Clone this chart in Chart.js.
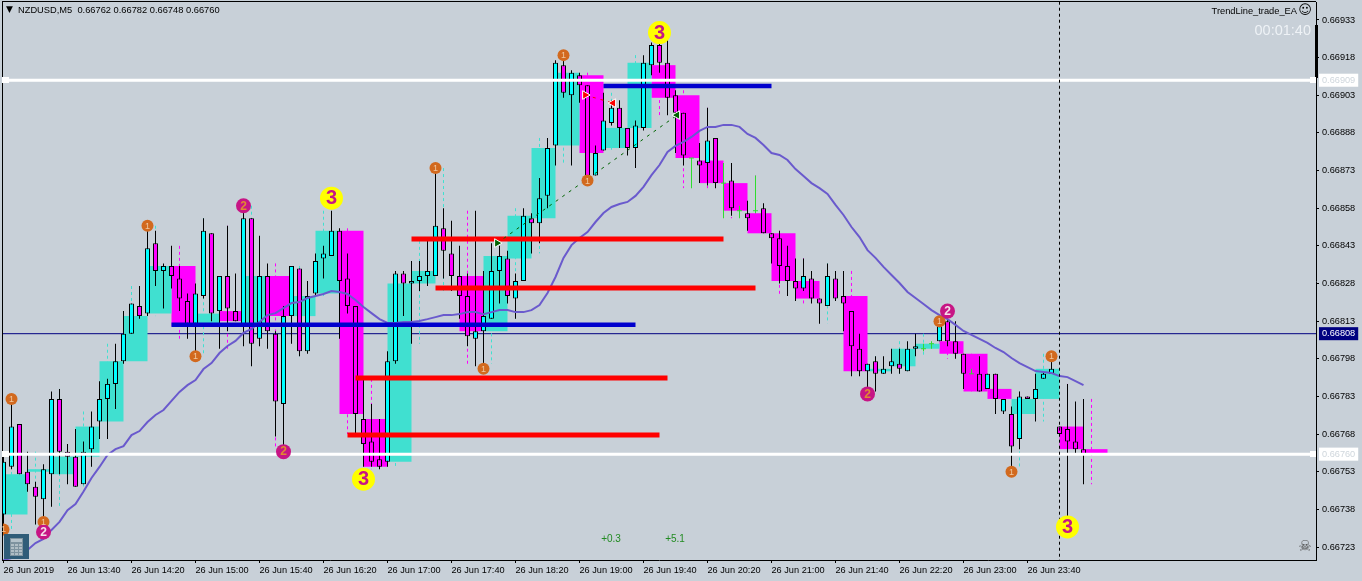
<!DOCTYPE html>
<html>
<head>
<meta charset="utf-8">
<title>NZDUSD,M5</title>
<script src="https://cdn.jsdelivr.net/npm/chart.js@4"></script>
<style>
html, body { margin: 0; padding: 0; background: #c8d0d8; overflow: hidden; }
canvas { display: block; }
</style>
</head>
<body>
<canvas id="chart_nzdusd" width="1362" height="581"></canvas>
<script>
// all prices are in points, 66760 = 0.66760
var opens = [66736,66755,66772,66753,66747,66742,66752,66782,66761,66759,
    66748,66762,66773,66782,66788,66797,66808,66819,66816,66844,
    66833,66835,66830,66821,66812,66823,66848,66817,66831,66817,
    66811,66854,66806,66831,66808,66780,66815,66834,66801,66824,
    66838,66839,66849,66830,66819,66774,66765,66758,66757,66797,
    66832,66828,66829,66831,66831,66850,66840,66831,66823,66806,
    66809,66814,66833,66838,66822,66829,66854,66852,66863,66883,
    66915,66903,66911,66907,66871,66881,66892,66898,66890,66882,
    66890,66915,66923,66916,66903,66896,66878,66877,66876,66886,
    66868,66869,66857,66856,66857,66858,66848,66846,66835,66829,
    66826,66830,66822,66819,66830,66823,66817,66802,66793,66797,
    66792,66795,66796,66793,66802,66802,66804,66805,66813,66805,
    66800,66792,66792,66786,66792,66777,66776,66766,66783,66782,
    66790,66792,66771,66770,66765,66762];
var highs = [66760,66784,66772,66761,66749,66756,66785,66786,66764,66770,
    66765,66777,66789,66790,66804,66817,66820,66827,66851,66849,
    66836,66843,66835,66824,66828,66854,66848,66831,66851,66832,
    66859,66854,66847,66836,66809,66819,66835,66834,66829,66840,
    66843,66857,66850,66840,66819,66790,66780,66774,66801,66833,
    66833,66837,66837,66845,66874,66858,66853,66843,66832,66857,
    66833,66844,66843,66841,66832,66858,66856,66870,66886,66917,
    66918,66913,66912,66907,66883,66904,66901,66901,66890,66893,
    66919,66924,66925,66925,66905,66896,66878,66884,66898,66886,
    66876,66876,66859,66861,66871,66860,66848,66849,66843,66838,
    66838,66833,66822,66836,66833,66833,66817,66808,66796,66799,
    66799,66802,66802,66805,66808,66804,66805,66814,66815,66813,
    66800,66794,66799,66792,66792,66782,66779,66785,66783,66792,
    66793,66800,66771,66788,66781,66782];
var lows = [66730,66754,66752,66745,66732,66734,66739,66752,66748,66747,
    66748,66755,66766,66766,66778,66796,66808,66814,66815,66827,
    66818,66826,66817,66806,66799,66822,66813,66802,66809,66813,
    66803,66795,66803,66802,66767,66763,66804,66799,66800,66823,
    66830,66839,66806,66816,66768,66755,66755,66754,66755,66796,
    66815,66804,66825,66827,66831,66830,66825,66814,66803,66795,
    66796,66814,66820,66820,66814,66829,66840,66844,66858,66875,
    66902,66875,66900,66869,66871,66881,66891,66882,66879,66874,
    66889,66911,66912,66895,66880,66875,66866,66868,66867,66866,
    66854,66855,66854,66849,66856,66848,66836,66828,66823,66821,
    66825,66820,66812,66819,66821,66809,66791,66791,66786,66785,
    66792,66792,66792,66793,66799,66801,66802,66805,66803,66798,
    66786,66792,66785,66786,66776,66776,66754,66762,66782,66773,
    66790,66792,66768,66735,66760,66748];
var closes = [66757,66771,66752,66748,66743,66754,66782,66761,66759,66747,
    66761,66771,66782,66788,66797,66808,66820,66815,66842,66833,
    66835,66831,66822,66812,66824,66849,66816,66831,66818,66813,
    66854,66804,66831,66809,66781,66815,66835,66801,66823,66837,
    66840,66849,66829,66819,66776,66764,66757,66755,66797,66832,
    66828,66829,66831,66833,66851,66841,66831,66823,66807,66809,
    66815,66833,66839,66823,66829,66855,66852,66862,66882,66916,
    66904,66912,66907,66870,66880,66893,66898,66890,66882,66891,
    66916,66923,66916,66902,66896,66879,66878,66875,66885,66868,
    66868,66858,66857,66854,66857,66848,66846,66835,66829,66826,
    66831,66822,66820,66831,66822,66820,66803,66793,66796,66792,
    66794,66797,66794,66802,66803,66802,66804,66811,66805,66800,
    66792,66792,66785,66792,66782,66782,66763,66783,66782,66786,
    66792,66794,66768,66765,66762,66760];

// moving average, one value per M5 bar
var maValues = [66717.8,66718.6,66720.2,66721.8,66724.6,66726.2,66729.8,66733.0,66737.7,66740.1,
    66745.1,66750.5,66754.9,66759.7,66762.0,66763.2,66767.6,66769.2,66772.8,66775.6,
    66777.6,66781.2,66784.8,66787.5,66789.5,66793.9,66796.3,66800.3,66803.1,66805.1,
    66808.3,66809.9,66812.7,66815.4,66816.2,66818.2,66820.2,66820.6,66822.2,66823.0,
    66823.8,66825.0,66824.6,66823.8,66821.4,66818.6,66816.2,66813.8,66812.3,66812.3,
    66812.7,66812.7,66813.1,66813.8,66814.6,66815.4,66815.4,66815.8,66816.6,66816.6,
    66815.8,66816.6,66817.4,66817.4,66816.6,66816.6,66817.4,66819.4,66824.2,66830.6,
    66838.2,66843.3,66846.1,66848.5,66852.5,66856.1,66858.5,66859.7,66860.5,66862.9,
    66866.5,66871.2,66875.2,66880.4,66882.8,66884.4,66886.4,66888.8,66890.4,66890.4,
    66891.2,66891.2,66890.4,66887.6,66886.0,66883.2,66880.0,66879.2,66877.2,66873.6,
    66870.8,66868.0,66866.0,66863.7,66859.3,66855.3,66850.5,66846.5,66841.3,66838.2,
    66834.6,66831.4,66828.2,66824.6,66822.2,66819.8,66817.4,66815.4,66813.8,66811.5,
    66809.1,66807.5,66805.9,66804.3,66802.3,66800.7,66798.3,66796.3,66794.7,66793.1,
    66792.7,66792.3,66791.1,66790.7,66789.1,66787.5];

// higher timeframe bars, each one spans three M5 bars
var htfOpens = [66736,66753,66752,66759,66773,66797,66816,66835,66812,66817,66811,66831,66815,66824,66849,66774,
    66757,66828,66831,66831,66809,66838,66854,66883,66911,66882,66890,66915,66903,66877,66868,
    66856,66848,66829,66822,66823,66793,66795,66802,66805,66800,66786,66776,66782,66771,66762];
var htfHighs = [66784,66761,66786,66777,66804,66827,66851,66843,66854,66851,66859,66836,66835,66857,66850,66790,
    66833,66845,66874,66857,66844,66858,66886,66918,66912,66904,66919,66925,66905,66898,66876,
    66871,66849,66838,66836,66833,66799,66805,66808,66815,66800,66792,66785,66800,66788,66782];
var htfLows = [66730,66732,66739,66747,66766,66796,66815,66806,66799,66802,66795,66763,66799,66823,66768,66754,
    66755,66804,66825,66795,66796,66814,66840,66875,66870,66881,66874,66895,66866,66866,66854,
    66848,66823,66820,66812,66791,66785,66792,66799,66798,66785,66776,66754,66773,66735,66748];
var htfCloses = [66752,66754,66759,66771,66797,66815,66835,66811,66816,66813,66831,66815,66823,66849,66776,66755,
    66828,66833,66831,66809,66839,66855,66882,66912,66880,66890,66916,66902,66878,66868,66857,
    66848,66829,66822,66822,66793,66794,66802,66804,66800,66785,66782,66782,66794,66762,66760];

// trend lines: start bar, end bar, price
var redStarts = [51, 54, 44, 43];
var redEnds = [90, 94, 83, 82];
var redPrices = [66845.7, 66826.2, 66790.3, 66767.6];
var blueStarts = [21, 75];
var blueEnds = [79, 96];
var bluePrices = [66811.6, 66906.7];
var whitePrices = [66909, 66760];
var bidPrice = 66808;

// closed trades: entry and exit
var buyBars = [61.7, 84.2];
var buyPrices = [66844.1, 66895.1];
var sellBars = [72.7, 76.2];
var sellPrices = [66903.1, 66899.9];

// numbered swing markers
var oneBars = [1, 0, 5, 18, 24, 54, 60, 70, 73, 117, 131, 126];
var onePrices = [66782, 66730, 66733, 66851, 66799, 66874, 66794, 66919, 66869, 66813, 66799, 66753];
var twoBars = [5, 30, 35, 108, 118];
var twoPrices = [66729, 66859, 66761, 66784, 66817];
var threeBars = [41, 45, 82, 133];
var threePrices = [66862, 66750, 66928, 66731];

var crosshairBar = 132;

var timeTickBars = [0, 8, 16, 24, 32, 40, 48, 56, 64, 72, 80, 88, 96, 104, 112, 120, 128];
var timeTickLabels = ['26 Jun 2019', '26 Jun 13:40', '26 Jun 14:20', '26 Jun 15:00', '26 Jun 15:40',
    '26 Jun 16:20', '26 Jun 17:00', '26 Jun 17:40', '26 Jun 18:20', '26 Jun 19:00', '26 Jun 19:40',
    '26 Jun 20:20', '26 Jun 21:00', '26 Jun 21:40', '26 Jun 22:20', '26 Jun 23:00', '26 Jun 23:40'];
var priceTicks = [66933, 66918, 66903, 66888, 66873, 66858, 66843, 66828, 66813, 66798, 66783, 66768, 66753, 66738, 66723];

var BG = '#c8d0d8';
var TURQUOISE = '#40e0d0';
var MAGENTA = '#ff00ff';
var CYAN = '#00ffff';
var DOJI = '#2fdc2f';
var FONT = '"Liberation Sans"';

function segment(list, x1, y1, x2, y2) {
    list.push({x: x1, y: y1}, {x: x2, y: y2}, {x: x2, y: null});
}

var htfUpBoxes = [], htfDownBoxes = [], htfUpDash = [], htfDownDash = [];
htfOpens.forEach(function(open, k) {
    var up = htfCloses[k] >= open;
    (up ? htfUpBoxes : htfDownBoxes).push({x: 3 * k + 1.5, y: [open, htfCloses[k]]});
    segment(up ? htfUpDash : htfDownDash, 3 * k + 1, htfHighs[k], 3 * k + 1, htfLows[k]);
});

var wicks = [], wickColors = [], bodies = [], bodyColors = [], dojiCross = [];
opens.forEach(function(open, i) {
    var doji = open === closes[i];
    wicks.push({x: i, y: [lows[i], highs[i]]});
    wickColors.push(doji ? DOJI : '#000000');
    if (doji) {
        segment(dojiCross, i - 0.31, open, i + 0.31, open);
    } else {
        bodies.push({x: i, y: [open, closes[i]]});
        bodyColors.push(closes[i] > open ? CYAN : MAGENTA);
    }
});

var redData = [], blueData = [], whiteData = [], bidData = [], crosshair = [];
redPrices.forEach(function(p, n) { segment(redData, redStarts[n], p, redEnds[n], p); });
bluePrices.forEach(function(p, n) { segment(blueData, blueStarts[n], p, blueEnds[n], p); });
whitePrices.forEach(function(p) { segment(whiteData, -1, p, 170, p); });
segment(bidData, -1, bidPrice, 170, bidPrice);
segment(crosshair, crosshairBar, 66700, crosshairBar, 66950);

function zip(xs, ys) {
    return xs.map(function(x, n) { return {x: x, y: ys[n]}; });
}

function barSet(data, thickness, color, order, border) {
    return {
        type: 'bar', data: data, order: order, grouped: false,
        barThickness: thickness, backgroundColor: color, inflateAmount: 0,
        borderWidth: border ? 1 : 0, borderColor: '#000000', borderSkipped: false
    };
}

function lineSet(data, color, width, order, dash) {
    return {
        type: 'line', data: data, order: order, borderColor: color, borderWidth: width,
        borderDash: dash || [], pointRadius: 0, spanGaps: false, tension: 0, fill: false
    };
}

function markerSet(data, color, radius, order) {
    return {
        type: 'line', data: data, order: order, showLine: false, pointRadius: radius,
        pointBackgroundColor: color, pointBorderWidth: 0, pointStyle: 'circle'
    };
}

function tradeSet(bars, prices, color) {
    var s = lineSet(zip(bars, prices), color, 1, 5, [3, 5]);
    s.pointStyle = 'triangle';
    s.pointRadius = 5;
    s.pointRotation = [90, -90];
    s.pointBackgroundColor = color;
    s.pointBorderColor = '#ffffff';
    s.pointBorderWidth = 1;
    return s;
}

// some of the 2 markers sit over a 1 and their digit looks orange
var twoDigitColors = ['#f4e0ea', '#e08a30', '#e08a30', '#e08a30', '#f4e0ea'];
var digitLabels = [
    {bars: oneBars, prices: onePrices, text: '1', color: '#f0c8a0', font: '9px ' + FONT},
    {bars: twoBars, prices: twoPrices, text: '2', colors: twoDigitColors, font: 'bold 12px ' + FONT},
    {bars: threeBars, prices: threePrices, text: '3', color: '#c71585', font: 'bold 20px ' + FONT}
];

var overlay = {
    id: 'overlay',
    beforeDraw: function(chart) {
        var c = chart.ctx;
        c.save();
        c.fillStyle = BG;
        c.fillRect(0, 0, chart.width, chart.height);
        c.restore();
    },
    afterDraw: function(chart) {
        var c = chart.ctx, xs = chart.scales.x, ys = chart.scales.y, area = chart.chartArea;
        c.save();
        // top and left frame
        c.fillStyle = '#000000';
        c.fillRect(area.left, area.top - 1, area.right - area.left, 1);
        c.fillRect(area.left, area.top, 1, area.bottom - area.top);
        c.fillRect(area.right - 1, 25, 3, 53);

        // white tabs at both ends of the price lines
        c.fillStyle = '#ffffff';
        whitePrices.forEach(function(p) {
            var y = Math.round(ys.getPixelForValue(p));
            c.fillRect(area.left, y - 3, 7, 6);
            c.fillRect(area.right - 6, y - 3, 6, 6);
        });

        // digits on the swing markers
        c.textAlign = 'center';
        c.textBaseline = 'middle';
        digitLabels.forEach(function(set) {
            c.font = set.font;
            set.bars.forEach(function(b, n) {
                c.fillStyle = set.colors ? set.colors[n] : set.color;
                c.fillText(set.text, xs.getPixelForValue(b), ys.getPixelForValue(set.prices[n]) + 0.5);
            });
        });

        // texts on the window
        c.textAlign = 'left';
        c.fillStyle = '#000000';
        c.font = '9px "DejaVu Sans"';
        c.fillText('\u25BC', 6, 10);
        c.font = '9.3px ' + FONT;
        c.fillText('NZDUSD,M5  0.66762 0.66782 0.66748 0.66760', 18, 10);
        c.textAlign = 'right';
        c.fillText('TrendLine_trade_EA', 1297, 11);
        c.font = '13px "DejaVu Sans"';
        c.textAlign = 'center';
        c.fillText('\u263A', 1305, 11);
        c.fillStyle = '#eef2f6';
        c.font = '14.5px ' + FONT;
        c.textAlign = 'right';
        c.fillText('00:01:40', 1311, 31);
        c.fillStyle = '#228b22';
        c.font = '10px ' + FONT;
        c.textAlign = 'center';
        c.fillText('+0.3', 611, 539);
        c.fillText('+5.1', 675, 539);
        c.fillStyle = '#505050';
        c.font = '15px "DejaVu Sans"';
        c.fillText('\u2620', 1305, 547);

        // calculator button
        c.fillStyle = '#2f5c78';
        c.fillRect(4, 534, 25, 25);
        c.fillStyle = '#7e939f';
        c.fillRect(10, 538, 13, 18);
        c.fillStyle = '#b4c2ca';
        c.fillRect(11, 539, 11, 3);
        c.fillStyle = '#b0bec5';
        for (var row = 0; row < 4; row++) {
            for (var col = 0; col < 3; col++) {
                c.fillRect(11 + col * 4, 544 + row * 3, 3, 2);
            }
        }
        c.restore();
    }
};

var ctx = document.getElementById('chart_nzdusd');
var myChart = new Chart(ctx, {
    type: 'bar',
    data: {
        datasets: [
            lineSet(bidData, '#000080', 1, 20),
            barSet(htfUpBoxes, 24, TURQUOISE, 19, false),
            barSet(htfDownBoxes, 24, MAGENTA, 19, false),
            lineSet(htfUpDash, TURQUOISE, 1, 18, [3, 3]),
            lineSet(htfDownDash, MAGENTA, 1, 18, [3, 3]),
            barSet(wicks, 1, wickColors, 17, false),
            lineSet(dojiCross, DOJI, 1, 17),
            barSet(bodies, 5, bodyColors, 16, true),
            lineSet(maValues.map(function(v, i) { return {x: i, y: v}; }), '#6a5acd', 2, 12),
            lineSet(redData, '#ff0000', 5, 8),
            lineSet(blueData, '#0000cd', 4.5, 8),
            lineSet(whiteData, '#ffffff', 3, 7),
            tradeSet(buyBars, buyPrices, '#006400'),
            tradeSet(sellBars, sellPrices, '#ff0000'),
            lineSet(crosshair, '#000000', 1, 4, [3, 3]),
            markerSet(zip(oneBars, onePrices), '#d2691e', 6, 3),
            markerSet(zip(twoBars, twoPrices), '#c71585', 7.5, 2),
            markerSet(zip(threeBars, threePrices), '#ffff00', 11.5, 1)
        ]
    },
    options: {
        responsive: false,
        animation: false,
        devicePixelRatio: 1,
        layout: {autoPadding: false, padding: {left: 2, top: 2, right: 0, bottom: 0}},
        plugins: {legend: {display: false}, tooltip: {enabled: false}},
        scales: {
            x: {
                type: 'linear',
                offset: false,
                min: -0.1875,
                max: 164.0625,
                grid: {offset: false, drawOnChartArea: false, tickLength: 3, tickColor: '#000000'},
                border: {color: '#000000', width: 1},
                afterBuildTicks: function(scale) {
                    scale.ticks = timeTickBars.map(function(v) { return {value: v}; });
                },
                afterFit: function(scale) {
                    scale.height = 21;
                    scale.paddingLeft = 0;
                    scale.paddingRight = 0;
                },
                ticks: {
                    autoSkip: false,
                    maxRotation: 0,
                    minRotation: 0,
                    align: 'start',
                    padding: 2,
                    color: '#000000',
                    font: {family: FONT, size: 9.2},
                    callback: function(value) {
                        return timeTickLabels[timeTickBars.indexOf(value)];
                    }
                }
            },
            y: {
                position: 'right',
                min: 66717.82,
                max: 66940.17,
                grid: {
                    drawOnChartArea: false,
                    tickLength: 3,
                    tickColor: function(c) {
                        return c.tick && isFlag(c.tick.value) ? 'rgba(0,0,0,0)' : '#000000';
                    }
                },
                border: {color: '#000000', width: 1},
                afterBuildTicks: function(scale) {
                    scale.ticks = priceTicks.concat(whitePrices, [bidPrice]).map(function(v) { return {value: v}; });
                },
                afterFit: function(scale) {
                    scale.width = 46;
                    scale.paddingTop = 0;
                    scale.paddingBottom = 0;
                },
                ticks: {
                    autoSkip: false,
                    crossAlign: 'near',
                    padding: 3,
                    font: {family: FONT, size: 9.2},
                    color: function(c) {
                        if (c.tick.value === bidPrice) { return '#ffffff'; }
                        return isFlag(c.tick.value) ? '#cfd6dc' : '#000000';
                    },
                    showLabelBackdrop: function(c) { return isFlag(c.tick.value); },
                    backdropColor: function(c) {
                        return c.tick.value === bidPrice ? '#000080' : '#ffffff';
                    },
                    backdropPadding: {left: 3, right: 3, top: 1, bottom: 1},
                    callback: function(value) { return (value / 100000).toFixed(5); }
                }
            }
        }
    },
    plugins: [overlay]
});

function isFlag(v) {
    return v === bidPrice || whitePrices.indexOf(v) >= 0;
}
</script>
</body>
</html>
